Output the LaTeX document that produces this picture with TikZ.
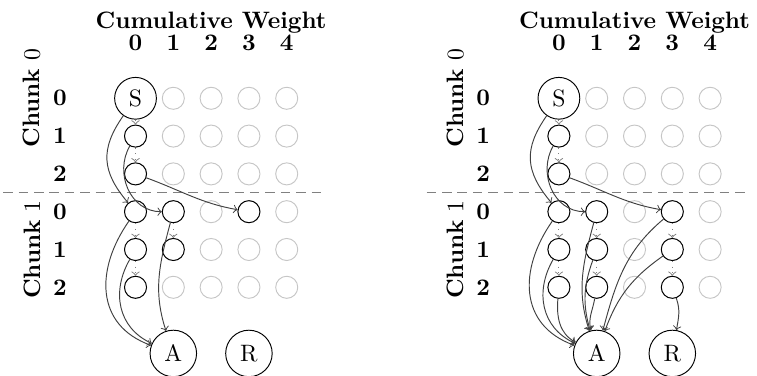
\documentclass[tikz,border=0pt]{standalone}

\tikzset{
  cell/.style={circle, draw=gray!45, minimum size=9.3pt, inner sep=0pt},
  used/.style={circle, draw=black, minimum size=9.3pt, inner sep=0pt},
  term/.style={circle, draw=black, minimum size=19.6pt, inner sep=0pt},
  skip/.style={->, gray, dotted},
  jump/.style={->, black!75},
  split/.style={gray, line width=0.6pt, dash pattern=on 4pt off 2.5pt},
  lbl/.style={font=\bfseries}
}

\begin{document}
\begin{tikzpicture}[x=0.56cm, y=0.56cm]
  \useasboundingbox (-3.585,2.6) rectangle (16.44,-7.346);
  % both panels share the grid and the first edges
  \foreach \p/\dx in {l/0, r/11.2} {
    \begin{scope}[shift={(\dx,0)}]
      \foreach \i in {0,...,4}
        \foreach \j in {0,...,5}
          \node[cell] (\p\i\j) at (\i,-\j) {};
      \node[term, fill=white, minimum size=17.6pt] (\p S) at (0,0) {S};
      \node[term] (\p A) at (1,-6.75) {A};
      \node[term] (\p R) at (3,-6.75) {R};
      \foreach \c in {01,02,03,13,33,04,14,05}
        \node[used] at (\p\c) {};
      \node[lbl] (\p title) at (2,2.0) {Cumulative Weight};
      \foreach \i in {0,...,4}
        \node[lbl] (\p c\i) at (\i,1.46) {\i};
      \foreach \j/\k in {0/0,1/1,2/2,3/0,4/1,5/2}
        \node[lbl] (\p w\j) at (-2,-\j) {\k};
      \node[rotate=90] (\p k0) at (-2.74,0) {\textbf{Chunk} 0};
      \node[rotate=90] (\p k1) at (-2.74,-4) {\textbf{Chunk} 1};
      \coordinate (\p a) at (-3.5,-2.5);
      \coordinate (\p b) at (5.01,-2.5);
      \draw[split] (\p a) -- (\p b);
      \draw[skip] (\p S) -- (\p01);
      \draw[skip] (\p01) -- (\p02);
      \draw[skip] (\p03) -- (\p04);
      \draw[skip] (\p04) -- (\p05);
      \draw[skip] (\p13) -- (\p14);
      \draw[jump] (\p S) to[out=235, in=130, looseness=1.2] (\p03);
      \draw[jump] (\p01) to[out=240, in=180, looseness=1.1] (\p13);
      \draw[jump] (\p02) to[out=-20, in=170] (\p33);
      \draw[jump] (\p03) to[out=235, in=160, looseness=1.2] (\p A);
      \draw[jump] (\p04) to[out=240, in=155, looseness=1.1] (\p A);
      \draw[jump] (\p13) to[out=255, in=108] (\p A);
    \end{scope}
  }
  % extra paths on the right
  \foreach \c in {15,34,35}
    \node[used] at (r\c) {};
  \draw[skip] (r14) -- (r15);
  \draw[skip] (r33) -- (r34);
  \draw[skip] (r34) -- (r35);
  \draw[jump] (r05) to[out=265, in=152] (rA);
  \draw[jump] (r14) to[out=250, in=106] (rA);
  \draw[jump] (r15) to[out=260, in=104] (rA);
  \draw[jump] (r33) to[out=220, in=75] (rA);
  \draw[jump] (r34) to[out=215, in=70] (rA);
  \draw[jump] (r35) to[out=-70, in=80] (rR);
\end{tikzpicture}
\end{document}
